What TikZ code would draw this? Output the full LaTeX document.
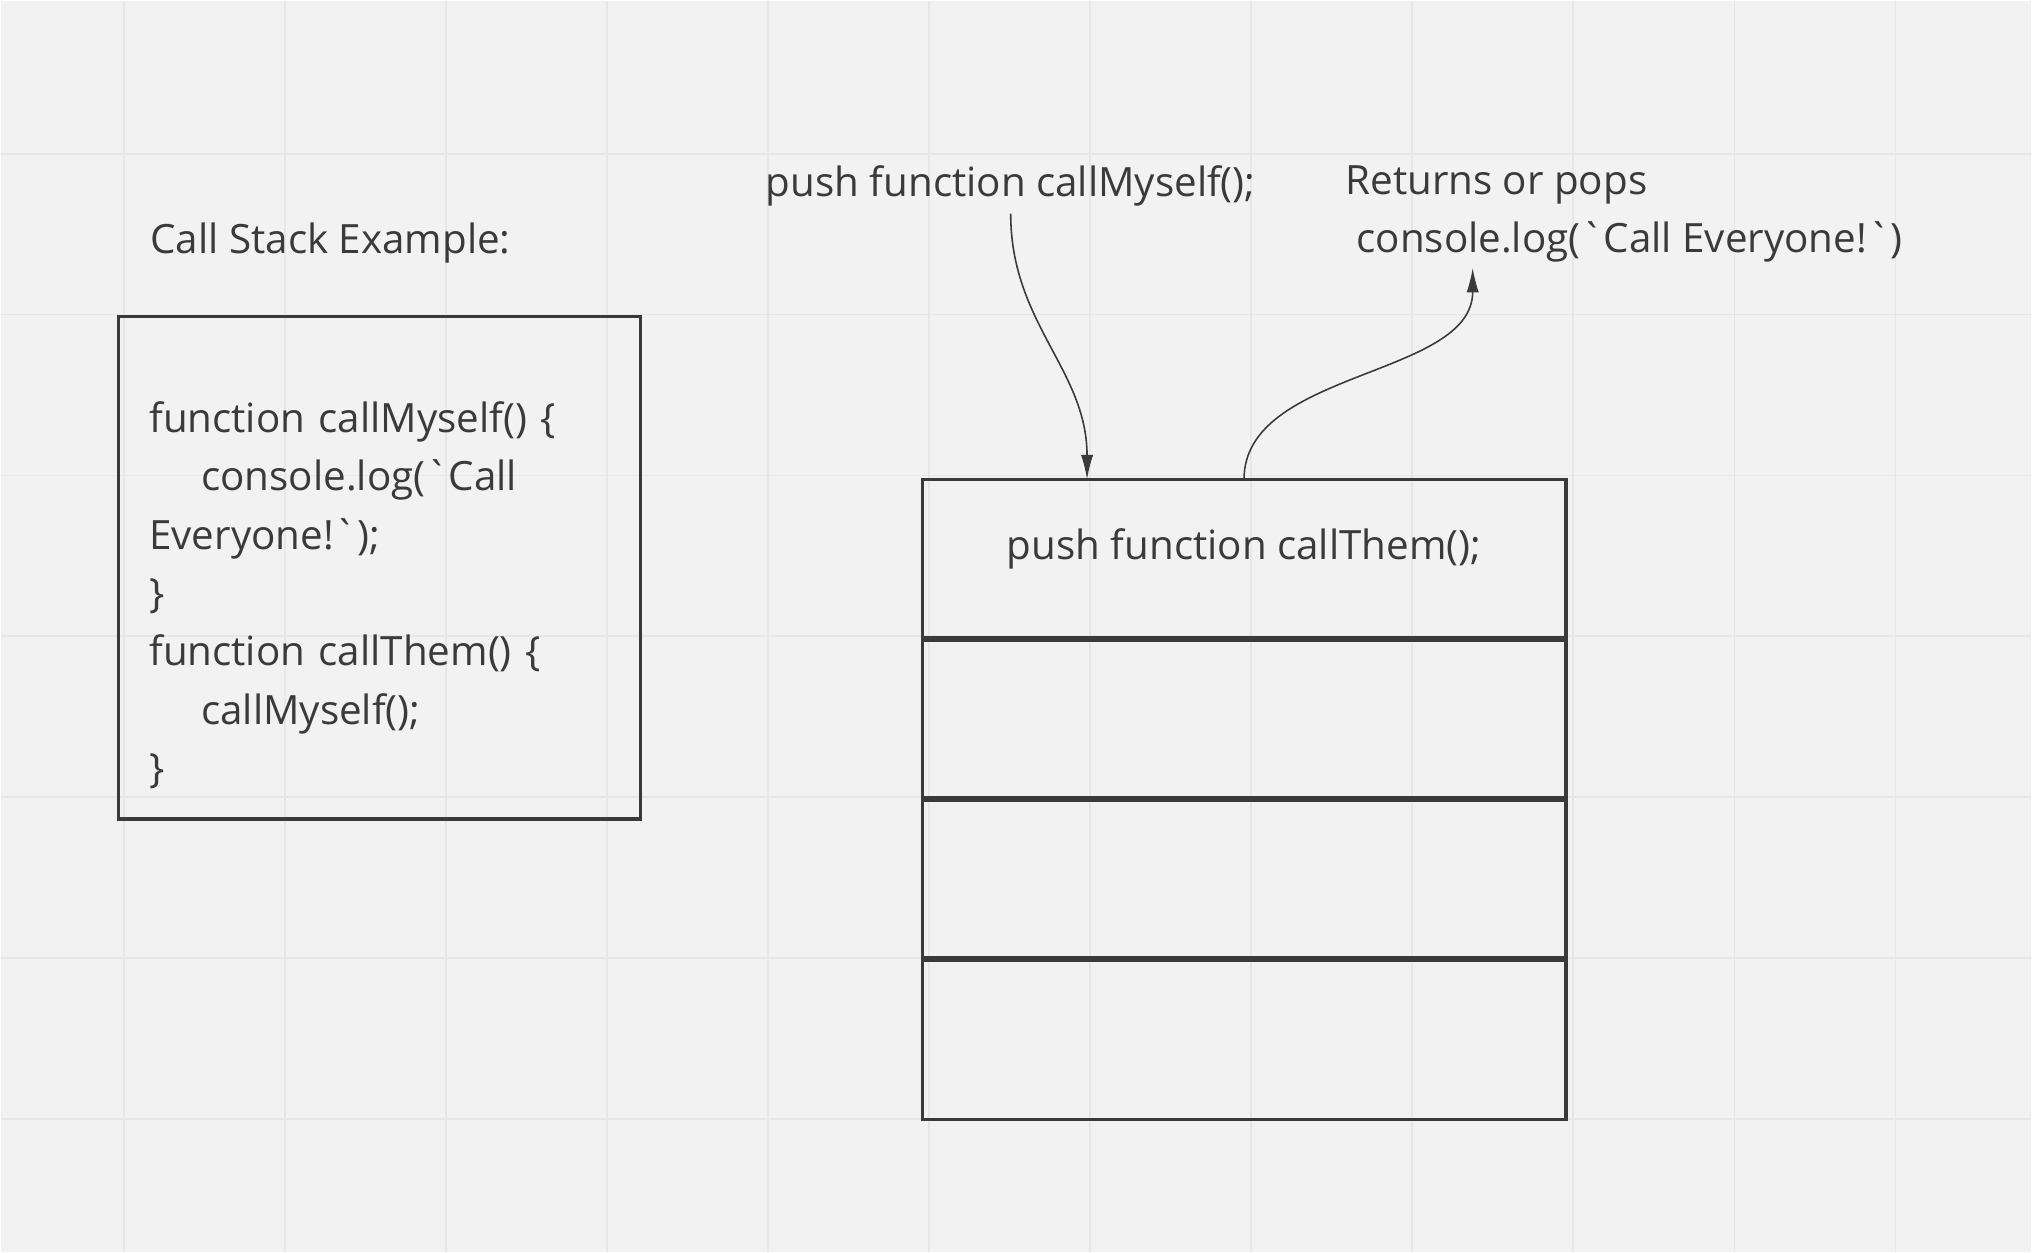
\documentclass[tikz,border=0pt]{standalone}
\usepackage{fontspec}
\setmainfont{Open Sans}[Ligatures=TeXOff]
\usetikzlibrary{arrows.meta}
\definecolor{bgcol}{HTML}{F2F2F2}
\definecolor{gridcol}{HTML}{E7E7E7}
\definecolor{inkcol}{HTML}{3A3A3A}
\begin{document}
\begin{tikzpicture}[x=0.01cm,y=-0.01cm,
		txt/.style={inner sep=0pt,text=inkcol,font=\fontsize{11.48}{16.6}\selectfont},
		cell/.style={txt,draw=inkcol,line width=0.9pt,outer sep=0pt,minimum width=6.44cm,minimum height=1.6cm},
		flow/.style={draw=inkcol,line width=0.45pt,-{Latex[length=7pt,width=3.5pt]}}]
		\fill[bgcol] (0,0) rectangle (2032,1252);
		\foreach \i in {0,...,11}
			\draw[gridcol,line width=0.5pt] ({123+161.2*\i},0) -- ({123+161.2*\i},1252);
		\foreach \j in {0,...,6}
			\draw[gridcol,line width=0.5pt] (0,{153+161*\j}) -- (2032,{153+161*\j});
		\node[txt,anchor=west] (title) at (149,242) {Call Stack Example:};
		\node[txt,draw=inkcol,line width=0.9pt,align=left,text width=4.6cm,inner xsep=0.31cm,minimum height=5.03cm,anchor=north west] (code) at (116,314)
			{\mbox{}\\[0.28cm]function callMyself() \{\\\hspace*{0.52cm}console.log(`Call\\Everyone!`);\\\}\\function callThem() \{\\\hspace*{0.52cm}callMyself();\\\}};
		\node[cell,anchor=north west,text depth=8.5pt] (cell1) at (922,479) {push function callThem();};
		\node[cell,anchor=north] (cell2) at (cell1.south) {};
		\node[cell,anchor=north] (cell3) at (cell2.south) {};
		\node[cell,anchor=north] (cell4) at (cell3.south) {};
		\foreach \c in {cell1,cell2,cell3}
			\draw[inkcol,line width=1.7pt] (\c.south west) -- (\c.south east);
		\node[txt,anchor=west] (push) at (765,185) {push function callMyself();};
		\node[txt,anchor=west,align=left] (pops) at (1345,213) {Returns or pops\\\hspace*{0.11cm}console.log(`Call Everyone!`)};
		\draw[flow] ([yshift=-0.07cm]push.south) .. controls +(0,110) and +(0,-110) .. ([xshift=-1.57cm]cell1.north);
		\draw[flow] (cell1.north) .. controls +(0,-110) and +(0,110) .. ([xshift=1.28cm,yshift=-0.05cm]pops.south west);
	\end{tikzpicture}
\end{document}
